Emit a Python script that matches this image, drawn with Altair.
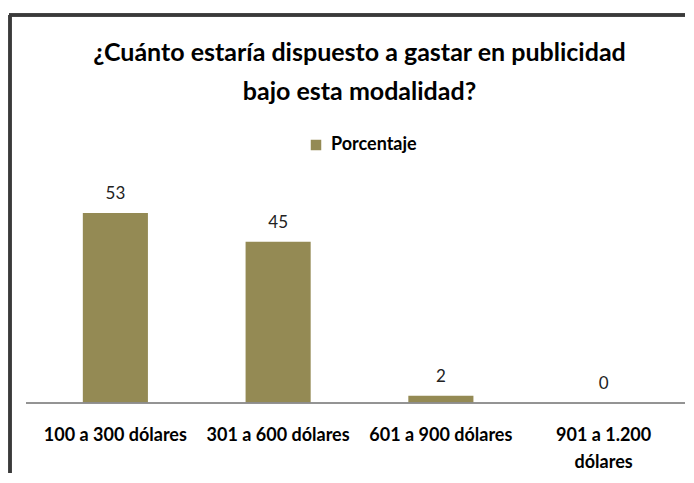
import altair as alt
import pandas as pd

categories = ["100 a 300 dólares", "301 a 600 dólares", "601 a 900 dólares", "901 a 1.200 dólares"]
values = [53, 45, 2, 0]
series_name = "Porcentaje"
title_lines = ["¿Cuánto estaría dispuesto a gastar en publicidad", "bajo esta modalidad?"]

df = pd.DataFrame({"cat": categories, "val": values, "serie": [series_name] * len(categories)})

FONT = "Lato"
OLIVE = "#948A54"

x = alt.X("cat:N", sort=categories, title=None,
          scale=alt.Scale(paddingInner=0.6, paddingOuter=0.3),
          axis=alt.Axis(domain=False, ticks=False, labelAngle=0, labelFontSize=18,
                        labelFontWeight="bold", labelColor="#000000", labelFont=FONT,
                        labelPadding=23, labelLimit=200, labelLineHeight=27,
                        labelExpr="datum.label == '901 a 1.200 dólares' ? ['901 a 1.200', 'dólares'] : datum.label"))
y = alt.Y("val:Q", title=None, scale=alt.Scale(domain=[0, 60], nice=False),
          axis=None)

base = alt.Chart(df)

bars = base.mark_bar(color=OLIVE).encode(
    x=x, y=y,
    color=alt.Color("serie:N", scale=alt.Scale(range=[OLIVE]),
                    legend=alt.Legend(title=None, orient="none", legendX=273, legendY=-52,
                                      symbolType="square", symbolSize=110, symbolStrokeWidth=0,
                                      labelFontSize=18, labelFontWeight="bold", labelFont=FONT,
                                      labelColor="#000000", labelOffset=6))
)

labels = base.mark_text(dy=-10, fontSize=17, font=FONT, color="#222222", baseline="bottom").encode(
    x=x, y=y, text=alt.Text("val:Q")
)

baseline = base.mark_rule(color="#8c8c8c", strokeWidth=1).encode(
    y=alt.datum(0), x=alt.value(-8), x2=alt.value(660)
)

frame_left = base.mark_rule(color="#3a3a3a", strokeWidth=3).encode(
    x=alt.value(-24), y=alt.value(-173), y2=alt.value(400)
)
frame_top = base.mark_rule(color="#3a3a3a", strokeWidth=3).encode(
    x=alt.value(-25), x2=alt.value(700), y=alt.value(-173)
)

chart = alt.layer(bars, labels, baseline, frame_left, frame_top).properties(
    width=651, height=215,
    autosize=alt.AutoSizeParams(type="none"),
    padding={"left": 26, "top": 180, "right": 0, "bottom": 70},
    title=alt.TitleParams(title_lines, anchor="middle", fontSize=25, fontWeight="bold",
                          font=FONT, color="#000000", lineHeight=39, dy=95)
).configure_view(stroke=None)

chart.save("out.html", embed_options={"renderer": "svg", "actions": False})
